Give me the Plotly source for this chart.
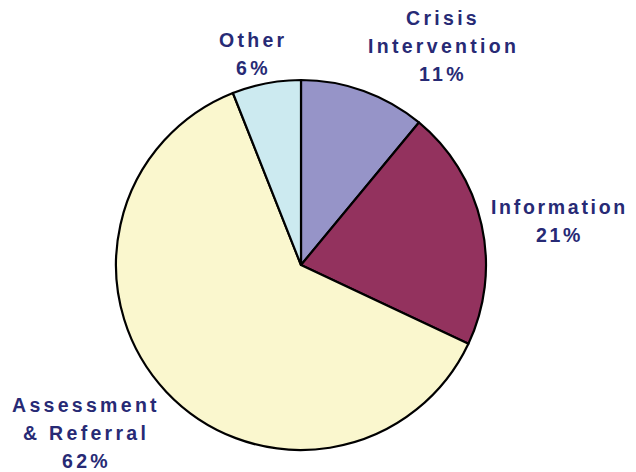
import plotly.graph_objects as go

categories = ["Crisis Intervention", "Information", "Assessment & Referral", "Other"]
values = [11, 21, 62, 6]
display_lines = [["Crisis", "Intervention"], ["Information"], ["Assessment", "& Referral"], ["Other"]]
colors = ["#9694C8", "#93325E", "#FAF7CE", "#CCEAF0"]

# label anchor (x center px, y px of first line) per category, in screenshot pixels
label_pos = [(443, 18), (559, 207), (86, 405), (253, 40)]
spacing = [3.3, 2.7, 3.3, 3.3]
LINE = 28
W, H = 636, 472
OFF = 8  # page body margin
CX, CY, R = 301 - OFF, 265 - OFF, 185

fig = go.Figure(go.Pie(
    labels=categories, values=values, sort=False, direction="clockwise", rotation=0,
    marker=dict(colors=colors, line=dict(color="#000000", width=2.2)),
    textinfo="none", hoverinfo="label+percent", showlegend=False,
    domain=dict(x=[(CX - R) / W, (CX + R) / W], y=[(H - CY - R) / H, (H - CY + R) / H]),
))

anns = []
for cat, val, lines, (cx, cy), sp in zip(categories, values, display_lines, label_pos, spacing):
    texts = lines + [f"{val}%"]
    for i, t in enumerate(texts):
        anns.append(dict(
            x=(cx - OFF) / W, y=1 - (cy - OFF + i * LINE) / H, xref="paper", yref="paper",
            text=f'<b><span style="letter-spacing:{sp}px">{t}</span></b>', showarrow=False,
            xanchor="center", yanchor="middle",
            font=dict(family="Arial, Liberation Sans", size=19.5, color="#272A75"),
        ))

fig.update_layout(width=W, height=H, margin=dict(l=0, r=0, t=0, b=0),
                  paper_bgcolor="white", plot_bgcolor="white", annotations=anns)
fig.write_html("out.html")
